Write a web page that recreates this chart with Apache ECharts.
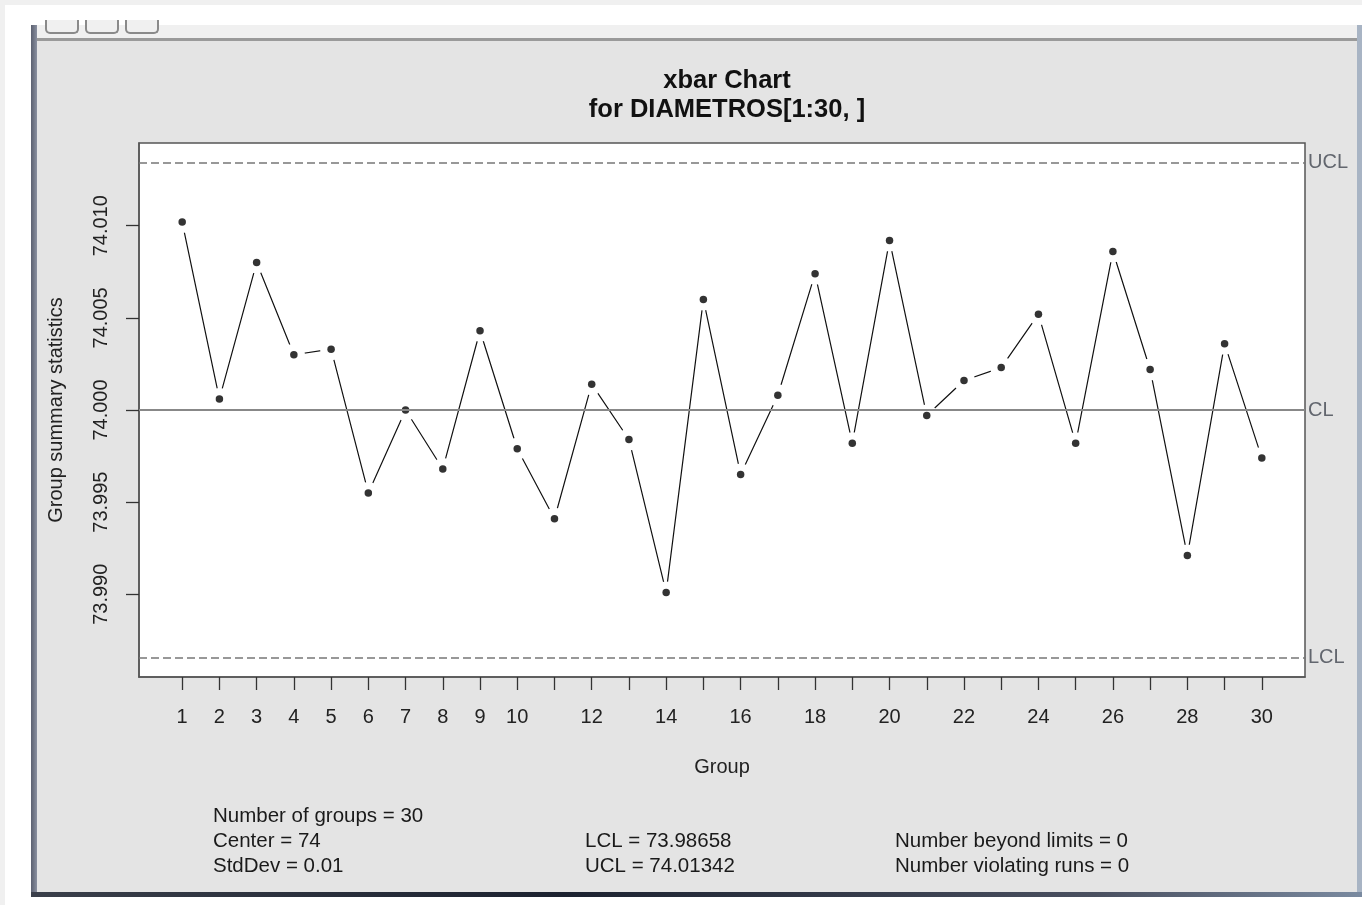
<!DOCTYPE html>
<html>
<head>
<meta charset="utf-8">
<script src="https://cdn.jsdelivr.net/npm/echarts@6/dist/echarts.min.js"></script>
<style>
  html, body { margin: 0; padding: 0; width: 1362px; height: 905px; overflow: hidden; background: #ffffff; font-family: 'Liberation Sans', Arial, sans-serif; }
  #strip { position: absolute; left: 0; top: 0; width: 1362px; height: 5px; background: #f0f0f0; }
  #lstrip { position: absolute; left: 0; top: 0; width: 5px; height: 905px; background: #f0f0f0; }
  #tabbar { position: absolute; left: 37px; top: 25px; width: 1320px; height: 13px; background: #f0f0f0; border-bottom: 3px solid #9a9a9a; }
  .btn { position: absolute; top: 20px; width: 30px; height: 12px; border: 2px solid #8a8a8a; border-top: none; border-radius: 0 0 5px 5px; background: #f0f0f0; }
  #panel { position: absolute; left: 37px; top: 41px; width: 1320px; height: 851px; background: #e4e4e4; }
  #lframe { position: absolute; left: 31px; top: 25px; width: 6px; height: 872px; background: linear-gradient(90deg, #5b6070, #8a90a0); }
  #bframe { position: absolute; left: 31px; top: 892px; width: 1331px; height: 5px; background: linear-gradient(90deg, #3a3f4a, #1c2230 40%, #4a5060 80%, #7a8aa0); }
  #rframe { position: absolute; left: 1357px; top: 25px; width: 5px; height: 872px; background: #a8b4c4; }
  #chart { position: absolute; left: 0; top: 0; width: 1362px; height: 905px; }
</style>
</head>
<body>
<div id="strip"></div>
<div id="lstrip"></div>
<div id="panel"></div>
<div id="tabbar"></div>
<div class="btn" style="left:45px"></div>
<div class="btn" style="left:85px"></div>
<div class="btn" style="left:125px"></div>
<div id="lframe"></div>
<div id="rframe"></div>
<div id="bframe"></div>
<div id="chart"></div>
<script>
// ---- data ----
const groups = [1,2,3,4,5,6,7,8,9,10,11,12,13,14,15,16,17,18,19,20,21,22,23,24,25,26,27,28,29,30];
const groupMeans = [74.0102,74.0006,74.0080,74.0030,74.0033,73.9955,74.0000,73.9968,74.0043,73.9979,
                    73.9941,74.0014,73.9984,73.9901,74.0060,73.9965,74.0008,74.0074,73.9982,74.0092,
                    73.9997,74.0016,74.0023,74.0052,73.9982,74.0086,74.0022,73.9921,74.0036,73.9974];
const centerValue = 74;
const lclValue = 73.98658;
const uclValue = 74.01342;
const xTickValues = groups;
const xLabelValues = [1,2,3,4,5,6,7,8,9,10,12,14,16,18,20,22,24,26,28,30];
const yTickValues = [73.990, 73.995, 74.000, 74.005, 74.010];
const titleLines = ['xbar Chart', 'for DIAMETROS[1:30, ]'];
const statsCol1 = ['Number of groups = 30', 'Center = 74', 'StdDev = 0.01'];
const statsCol2 = ['LCL = 73.98658', 'UCL = 74.01342'];
const statsCol3 = ['Number beyond limits = 0', 'Number violating runs = 0'];

const FONT = "'Liberation Sans', Arial, Helvetica, sans-serif";
const points = groups.map((g, i) => [g, groupMeans[i]]);

const chart = echarts.init(document.getElementById('chart'), null, { renderer: 'canvas' });

function statText(lines, x, y0) {
  return lines.map((t, i) => ({
    type: 'text', silent: true,
    style: { text: t, x: x, y: y0 + i * 25, font: '20.5px ' + FONT, fill: '#1a1a1a', textVerticalAlign: 'middle' }
  }));
}

const option = {
  backgroundColor: 'transparent',
  animation: false,
  title: {
    text: titleLines.join('\n'),
    left: 722, top: 61,
    textAlign: 'center',
    textStyle: { fontFamily: FONT, fontSize: 25.5, fontWeight: 'bold', color: '#111', lineHeight: 29 }
  },
  graphic: [].concat(
    statText(statsCol1, 213, 816),
    statText(statsCol2, 585, 841),
    statText(statsCol3, 895, 841)
  ),
  grid: {
    left: 139, top: 143, width: 1166, height: 534,
    show: true, backgroundColor: '#ffffff', borderColor: '#555', borderWidth: 1.5,
    containLabel: false
  },
  xAxis: {
    type: 'value', min: -0.16, max: 31.16,
    name: 'Group', nameLocation: 'middle', nameGap: 80,
    nameTextStyle: { fontFamily: FONT, fontSize: 20, color: '#222' },
    axisLine: { show: true, onZero: false, lineStyle: { color: '#555', width: 1.5 } },
    axisTick: { show: true, length: 13, customValues: xTickValues, lineStyle: { color: '#333', width: 1.3 } },
    axisLabel: { customValues: xLabelValues, margin: 30, fontFamily: FONT, fontSize: 20, color: '#222' },
    splitLine: { show: false }
  },
  yAxis: {
    type: 'value', min: 73.98551, max: 74.01449,
    name: 'Group summary statistics', nameLocation: 'middle', nameGap: 73, nameRotate: 90,
    nameTextStyle: { fontFamily: FONT, fontSize: 20, color: '#222' },
    axisLine: { show: true, onZero: false, lineStyle: { color: '#555', width: 1.5 } },
    axisTick: { show: true, length: 13, customValues: yTickValues, lineStyle: { color: '#333', width: 1.3 } },
    axisLabel: { customValues: yTickValues, rotate: 90, margin: 28, fontFamily: FONT, fontSize: 20, color: '#222',
                 formatter: v => v.toFixed(3) },
    splitLine: { show: false }
  },
  series: [
    {
      type: 'line', data: points, z: 2, silent: true,
      symbol: 'circle', symbolSize: 22, showSymbol: true,
      itemStyle: { color: '#ffffff', borderWidth: 0 },
      lineStyle: { color: '#111', width: 1.2 }
    },
    {
      type: 'line', data: [], z: 3, silent: true,
      markLine: {
        silent: true, symbol: ['none', 'none'], animation: false, precision: 6,
        label: { position: 'end', distance: 3, fontFamily: FONT, fontSize: 20, color: '#62666e' },
        data: [
          { yAxis: uclValue, label: { formatter: 'UCL' }, lineStyle: { type: [8, 4], color: '#777', width: 1.5 } },
          { yAxis: centerValue, label: { formatter: 'CL' }, lineStyle: { type: 'solid', color: '#888', width: 1.8 } },
          { yAxis: lclValue, label: { formatter: 'LCL' }, lineStyle: { type: [8, 4], color: '#777', width: 1.5 } }
        ]
      }
    },
    {
      type: 'scatter', data: points, z: 4, silent: true,
      symbol: 'circle', symbolSize: 7.5,
      itemStyle: { color: '#000' }
    }
  ]
};
chart.setOption(option);
</script>
</body>
</html>
